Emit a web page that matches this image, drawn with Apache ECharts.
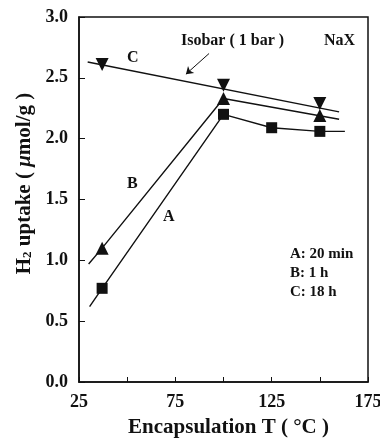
<!DOCTYPE html>
<html>
<head>
<meta charset="utf-8">
<script src="https://cdn.jsdelivr.net/npm/echarts@6/dist/echarts.min.js"></script>
<style>
  html, body { margin: 0; background: #fff; }
  #main { width: 380px; height: 439px; }
</style>
</head>
<body>
<div id="main"></div>
<script>
var xLabels = [25, 75, 125, 175];

// measured points
var tempA = [37, 100, 125, 150];
var uptakeA = [0.77, 2.2, 2.09, 2.06];
var tempB = [37, 100, 150];
var uptakeB = [1.1, 2.33, 2.19];
var tempC = [37, 100, 150];
var uptakeC = [2.61, 2.44, 2.29];

// drawn curves, with their ends as in the figure
var curveA = [[30.5, 0.62], [37, 0.77], [100, 2.2], [125, 2.09], [150, 2.06], [163, 2.06]];
var curveB = [[30, 0.97], [37, 1.1], [100, 2.33], [160, 2.16]];
var curveC = [[29.5, 2.63], [160, 2.22]];

function pairs(xs, ys) {
  return xs.map(function (x, i) { return [x, ys[i]]; });
}

var serif = 'Liberation Serif';
var ink = '#111';

var chart = echarts.init(document.getElementById('main'));

function curve(data) {
  return {
    type: 'line', data: data, showSymbol: false, silent: true,
    lineStyle: { color: ink, width: 1.4 }
  };
}
function points(data, symbol, size, rotate) {
  return {
    type: 'scatter', data: data, symbol: symbol, symbolSize: size,
    symbolRotate: rotate || 0, itemStyle: { color: ink, opacity: 1 }, z: 5
  };
}

var option = {
  animation: false,
  backgroundColor: '#fff',
  grid: {
    left: 79, right: 12, top: 17, bottom: 57,
    outerBoundsMode: 'none', containLabel: false,
    show: true, borderColor: ink, borderWidth: 1.5
  },
  xAxis: {
    type: 'value', min: 25, max: 175, interval: 25,
    name: 'Encapsulation T ( °C )', nameLocation: 'middle', nameGap: 35,
    nameTextStyle: { fontFamily: serif, fontWeight: 'bold', fontSize: 21, color: ink, padding: [0, 0, 0, 10] },
    axisLine: { lineStyle: { color: ink, width: 1.5 } },
    axisTick: { inside: true, length: 5, lineStyle: { color: ink } },
    splitLine: { show: false },
    axisLabel: {
      margin: 11, fontFamily: serif, fontWeight: 'bold', fontSize: 18, color: ink,
      formatter: function (v) { return xLabels.indexOf(v) >= 0 ? String(v) : ''; }
    }
  },
  yAxis: {
    type: 'value', min: 0, max: 3, interval: 0.5,
    name: '{t|H}{s|2}{t| uptake ( }{m|μ}{t|mol/g )}',
    nameLocation: 'middle', nameGap: 44,
    nameTextStyle: {
      padding: [0, 0, 0, 32],
      rich: {
        t: { fontFamily: serif, fontWeight: 'bold', fontSize: 21, color: ink },
        m: { fontFamily: serif, fontWeight: 'bold', fontStyle: 'italic', fontSize: 21, color: ink },
        s: { fontFamily: serif, fontWeight: 'bold', fontSize: 13, color: ink, verticalAlign: 'bottom', padding: [8, 0, 0, 0] }
      }
    },
    axisLine: { lineStyle: { color: ink, width: 1.5 } },
    axisTick: { inside: true, length: 6, lineStyle: { color: ink } },
    splitLine: { show: false },
    axisLabel: {
      margin: 11, fontFamily: serif, fontWeight: 'bold', fontSize: 18, color: ink,
      formatter: function (v) { return v.toFixed(1); }
    }
  },
  series: [
    curve(curveA),
    curve(curveB),
    Object.assign(curve(curveC), {
      markLine: {
        silent: true, symbol: ['none', 'arrow'], symbolSize: 7,
        lineStyle: { color: ink, width: 1, type: 'solid' },
        label: { show: false },
        data: [[{ coord: [92.5, 2.7] }, { coord: [80.5, 2.53] }]]
      }
    }),
    points(pairs(tempA, uptakeA), 'rect', 11),
    points(pairs(tempB, uptakeB), 'triangle', 13),
    points(pairs(tempC, uptakeC), 'triangle', 13, 180)
  ],
  graphic: [
    { type: 'text', left: 181, top: 33, style: { text: 'Isobar ( 1 bar )', font: 'bold 16px "Liberation Serif"', fill: ink } },
    { type: 'text', left: 324, top: 33, style: { text: 'NaX', font: 'bold 16px "Liberation Serif"', fill: ink } },
    { type: 'text', left: 127, top: 50, style: { text: 'C', font: 'bold 16px "Liberation Serif"', fill: ink } },
    { type: 'text', left: 127, top: 176, style: { text: 'B', font: 'bold 16px "Liberation Serif"', fill: ink } },
    { type: 'text', left: 163, top: 209, style: { text: 'A', font: 'bold 16px "Liberation Serif"', fill: ink } },
    { type: 'text', left: 290, top: 247, style: { text: 'A: 20 min', font: 'bold 15px "Liberation Serif"', fill: ink } },
    { type: 'text', left: 290, top: 266, style: { text: 'B: 1 h', font: 'bold 15px "Liberation Serif"', fill: ink } },
    { type: 'text', left: 290, top: 285, style: { text: 'C: 18 h', font: 'bold 15px "Liberation Serif"', fill: ink } }
  ]
};
chart.setOption(option);
</script>
</body>
</html>
